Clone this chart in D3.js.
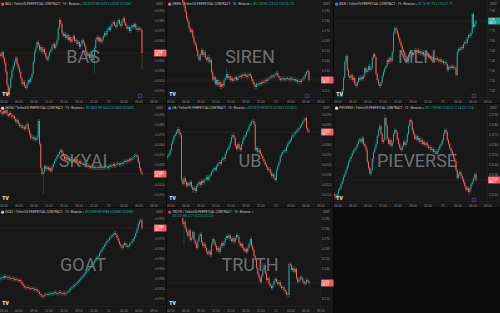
<!DOCTYPE html>
<html>
<head>
<meta charset="utf-8">
<script src="https://cdn.jsdelivr.net/npm/d3@7"></script>
<style>
  body { margin: 0; background: #0b0b0b; }
  svg { display: block; font-family: Roboto, "Noto Sans", sans-serif; }
</style>
</head>
<body>
<div id="chart"></div>
<script>
// Chart data
const symbols = ["BAS", "SIREN", "MLN", "SKYAI", "UB", "PIEVERSE", "GOAT", "TRUTH"];
const quote = " / TetherUS PERPETUAL CONTRACT · 15 · Binance";
const startTime = new Date(2025, 9, 14, 2, 30);
const barMinutes = 15;
const firstBar = [0, 12, 0, 0, 0, 0, 0, 12];
const firstOpen = [0.0346, 0.205, 7.00, 0.0494, 0.0546, 0.1110, 0.0929, 0.290];
const priceLo = [0.0303, 0.103, 7.03, 0.0403, 0.0503, 0.1103, 0.0902, 0.202];
const priceHi = [0.0400, 0.200, 8.00, 0.0500, 0.0600, 0.1200, 0.1000, 0.300];
const priceDecimals = [4, 3, 2, 4, 4, 4, 4, 3];
const xTickLabels = ["03:00", "06:00", "09:00", "12:00", "15:00", "18:00", "21:00", "15", "03:00", "06:00", "09:00"];
const countdown = "08:17";

const basClose = [
  0.0344,0.0348,0.0342,0.0337,0.0328,0.0315,0.0305,0.0312,0.0322,0.0330,
  0.0334,0.0338,0.0342,0.0336,0.0332,0.0328,0.0322,0.0316,0.0318,0.0314,
  0.0312,0.0316,0.0320,0.0318,0.0322,0.0326,0.0338,0.0348,0.0352,0.0358,
  0.0355,0.0350,0.0353,0.0348,0.0351,0.0347,0.0343,0.0340,0.0344,0.0348,
  0.0350,0.0354,0.0356,0.0352,0.0355,0.0360,0.0372,0.0380,0.0376,0.0367,
  0.0364,0.0366,0.0362,0.0365,0.0360,0.0363,0.0358,0.0361,0.0364,0.0359,
  0.0360,0.0356,0.0358,0.0353,0.0356,0.0360,0.0357,0.0354,0.0348,0.0344,
  0.0346,0.0342,0.0345,0.0340,0.0343,0.0352,0.0360,0.0363,0.0359,0.0362,
  0.0358,0.0360,0.0364,0.0367,0.0365,0.0370,0.0372,0.0370,0.0374,0.0376,
  0.0378,0.0375,0.0373,0.0377,0.0380,0.0376,0.0374,0.0379,0.0382,0.0377,
  0.0374,0.0371,0.0373,0.0369,0.0372,0.0375,0.0373,0.0376,0.0372,0.0370,
  0.0372,0.0371,0.0370,0.0347
];
const sirenClose = [
  0.198,0.194,0.188,0.182,0.178,0.172,0.168,0.170,0.163,0.158,
  0.155,0.150,0.144,0.140,0.146,0.150,0.145,0.148,0.142,0.140,
  0.143,0.138,0.140,0.128,0.120,0.123,0.116,0.120,0.115,0.118,
  0.113,0.116,0.114,0.120,0.122,0.126,0.122,0.124,0.120,0.122,
  0.119,0.121,0.123,0.120,0.122,0.124,0.123,0.125,0.124,0.126,
  0.124,0.123,0.125,0.126,0.124,0.121,0.118,0.115,0.113,0.116,
  0.115,0.117,0.116,0.118,0.117,0.119,0.120,0.119,0.121,0.122,
  0.123,0.124,0.123,0.125,0.126,0.127,0.124,0.122,0.120,0.121,
  0.122,0.120,0.121,0.122,0.121,0.120,0.122,0.121,0.120,0.121,
  0.119,0.120,0.118,0.119,0.118,0.120,0.121,0.123,0.126,0.128,
  0.129,0.120
];
const mlnClose = [
  7.01,7.00,7.02,7.03,7.01,7.04,7.10,7.22,7.38,7.44,
  7.30,7.24,7.22,7.25,7.20,7.22,7.16,7.14,7.18,7.22,
  7.20,7.23,7.21,7.24,7.32,7.28,7.30,7.34,7.30,7.32,
  7.42,7.46,7.43,7.26,7.20,7.16,7.14,7.18,7.24,7.28,
  7.32,7.34,7.40,7.38,7.42,7.39,7.48,7.67,7.72,7.70,
  7.66,7.62,7.58,7.54,7.50,7.48,7.44,7.40,7.38,7.43,
  7.46,7.48,7.45,7.47,7.50,7.48,7.50,7.47,7.49,7.46,
  7.48,7.45,7.46,7.44,7.45,7.43,7.44,7.42,7.43,7.41,
  7.40,7.42,7.40,7.39,7.41,7.38,7.39,7.37,7.38,7.36,
  7.30,7.33,7.32,7.34,7.32,7.33,7.32,7.25,7.48,7.51,
  7.50,7.53,7.52,7.56,7.58,7.57,7.62,7.65,7.64,7.67,
  7.86,7.73,7.76,7.79
];
const skyaiClose = [
  0.0492,0.0490,0.0493,0.0491,0.0494,0.0490,0.0488,0.0491,0.0489,0.0487,
  0.0488,0.0485,0.0482,0.0484,0.0480,0.0478,0.0479,0.0476,0.0477,0.0475,
  0.0478,0.0480,0.0474,0.0470,0.0466,0.0467,0.0465,0.0466,0.0464,0.0467,
  0.0483,0.0460,0.0436,0.0430,0.0432,0.0438,0.0435,0.0437,0.0434,0.0436,
  0.0433,0.0437,0.0440,0.0443,0.0445,0.0448,0.0450,0.0452,0.0454,0.0451,
  0.0448,0.0445,0.0447,0.0444,0.0446,0.0443,0.0445,0.0442,0.0444,0.0443,
  0.0445,0.0442,0.0441,0.0443,0.0440,0.0441,0.0439,0.0440,0.0438,0.0439,
  0.0437,0.0438,0.0436,0.0437,0.0436,0.0437,0.0436,0.0437,0.0436,0.0437,
  0.0436,0.0437,0.0436,0.0438,0.0437,0.0436,0.0438,0.0437,0.0439,0.0438,
  0.0440,0.0438,0.0439,0.0441,0.0440,0.0439,0.0441,0.0440,0.0442,0.0443,
  0.0442,0.0444,0.0443,0.0445,0.0444,0.0446,0.0447,0.0448,0.0449,0.0447,
  0.0442,0.0436,0.0432,0.0430
];
const ubClose = [
  0.0548,0.0550,0.0554,0.0560,0.0564,0.0568,0.0570,0.0572,0.0575,0.0571,
  0.0569,0.0524,0.0520,0.0526,0.0522,0.0518,0.0521,0.0519,0.0522,0.0517,
  0.0514,0.0516,0.0513,0.0518,0.0520,0.0522,0.0519,0.0523,0.0521,0.0524,
  0.0525,0.0527,0.0524,0.0528,0.0529,0.0532,0.0534,0.0536,0.0534,0.0538,
  0.0540,0.0542,0.0540,0.0544,0.0546,0.0545,0.0550,0.0553,0.0555,0.0558,
  0.0562,0.0567,0.0569,0.0566,0.0558,0.0555,0.0560,0.0556,0.0554,0.0560,
  0.0564,0.0567,0.0569,0.0572,0.0574,0.0578,0.0580,0.0582,0.0583,0.0580,
  0.0554,0.0556,0.0552,0.0554,0.0550,0.0548,0.0545,0.0542,0.0539,0.0537,
  0.0534,0.0535,0.0531,0.0528,0.0530,0.0526,0.0524,0.0534,0.0538,0.0542,
  0.0548,0.0550,0.0552,0.0554,0.0553,0.0557,0.0560,0.0562,0.0564,0.0567,
  0.0569,0.0570,0.0572,0.0573,0.0574,0.0576,0.0578,0.0580,0.0582,0.0584,
  0.0586,0.0576,0.0573,0.0572
];
const pieverseClose = [
  0.1108,0.1106,0.1110,0.1114,0.1116,0.1120,0.1123,0.1127,0.1130,0.1134,
  0.1138,0.1142,0.1145,0.1148,0.1151,0.1153,0.1155,0.1157,0.1160,0.1163,
  0.1165,0.1162,0.1166,0.1160,0.1158,0.1154,0.1142,0.1136,0.1130,0.1134,
  0.1145,0.1152,0.1156,0.1160,0.1168,0.1174,0.1178,0.1170,0.1162,0.1164,
  0.1186,0.1178,0.1165,0.1160,0.1164,0.1158,0.1162,0.1170,0.1174,0.1172,
  0.1165,0.1160,0.1156,0.1154,0.1158,0.1162,0.1159,0.1162,0.1170,0.1178,
  0.1184,0.1182,0.1174,0.1170,0.1165,0.1168,0.1164,0.1166,0.1162,0.1164,
  0.1160,0.1162,0.1159,0.1161,0.1158,0.1156,0.1157,0.1154,0.1155,0.1152,
  0.1153,0.1150,0.1152,0.1155,0.1158,0.1160,0.1164,0.1170,0.1174,0.1172,
  0.1164,0.1160,0.1156,0.1153,0.1150,0.1146,0.1143,0.1134,0.1126,0.1130,
  0.1132,0.1128,0.1125,0.1122,0.1118,0.1114,0.1116,0.1112,0.1115,0.1120,
  0.1122,0.1126,0.1130,0.1124
];
const goatClose = [
  0.0930,0.0931,0.0930,0.0932,0.0931,0.0930,0.0931,0.0930,0.0929,0.0930,
  0.0929,0.0928,0.0929,0.0928,0.0927,0.0928,0.0926,0.0924,0.0922,0.0921,
  0.0920,0.0921,0.0920,0.0920,0.0919,0.0920,0.0919,0.0918,0.0919,0.0917,
  0.0916,0.0914,0.0913,0.0911,0.0912,0.0913,0.0914,0.0913,0.0914,0.0914,
  0.0915,0.0914,0.0915,0.0916,0.0915,0.0914,0.0915,0.0916,0.0915,0.0914,
  0.0915,0.0914,0.0915,0.0916,0.0917,0.0918,0.0920,0.0921,0.0922,0.0923,
  0.0924,0.0925,0.0927,0.0928,0.0930,0.0931,0.0933,0.0934,0.0936,0.0937,
  0.0939,0.0940,0.0942,0.0944,0.0945,0.0947,0.0949,0.0951,0.0952,0.0955,
  0.0957,0.0959,0.0961,0.0963,0.0965,0.0967,0.0968,0.0970,0.0971,0.0973,
  0.0974,0.0975,0.0973,0.0970,0.0967,0.0964,0.0962,0.0960,0.0963,0.0965,
  0.0963,0.0961,0.0962,0.0964,0.0965,0.0967,0.0969,0.0971,0.0975,0.0979,
  0.0984,0.0987,0.0988,0.0980
];
const truthClose = [
  0.284,0.286,0.280,0.276,0.272,0.278,0.268,0.270,0.276,0.268,
  0.264,0.260,0.267,0.272,0.274,0.266,0.262,0.264,0.260,0.256,
  0.254,0.257,0.253,0.264,0.269,0.266,0.262,0.258,0.260,0.256,
  0.262,0.265,0.262,0.266,0.270,0.272,0.270,0.273,0.269,0.267,
  0.270,0.266,0.270,0.273,0.271,0.265,0.262,0.264,0.260,0.257,
  0.259,0.256,0.260,0.264,0.269,0.262,0.258,0.252,0.248,0.240,
  0.234,0.230,0.226,0.232,0.238,0.243,0.235,0.228,0.230,0.224,
  0.222,0.220,0.223,0.227,0.229,0.226,0.224,0.226,0.222,0.220,
  0.221,0.218,0.216,0.214,0.213,0.244,0.243,0.238,0.240,0.236,
  0.239,0.230,0.226,0.228,0.231,0.230,0.227,0.224,0.225,0.228,
  0.227,0.225
];

// long wicks: [bar index, high, low]
const basWicks = [[6, null, 0.0303], [47, 0.0383, null], [75, null, 0.0327], [113, null, 0.0330]];
const sirenWicks = [[47, 0.132, null]];
const mlnWicks = [[9, 7.46, null], [17, null, 7.12], [110, 7.88, null]];
const skyaiWicks = [[30, 0.0485, null], [34, null, 0.0410]];
const ubWicks = [[20, null, 0.0511], [110, 0.0587, null]];
const pieverseWicks = [[40, 0.1190, null], [107, null, 0.1109]];
const goatWicks = [];
const truthWicks = [[13, null, 0.262], [96, null, 0.211]];

const closes = [basClose, sirenClose, mlnClose, skyaiClose, ubClose, pieverseClose, goatClose, truthClose];
const wicks = [basWicks, sirenWicks, mlnWicks, skyaiWicks, ubWicks, pieverseWicks, goatWicks, truthWicks];

// Layout
const width = 500;
const height = 313;
const colX = [0, 167, 334];
const rowY = [0, 104, 208];
const panelW = 166;
const panelH = [103, 103, 105];
const plotW = 153;
const plotH = [97, 97, 98];
const upColor = "#26a69a";
const downColor = "#ef5f66";
const iconColors = ["#e8455c", "#e46b8a", "#4a7bd8", "#cccccc", "#3f6ff0", "#dddddd", "#bbbbbb", "#c8433f"];
const markedPanels = ["BAS", "SIREN", "MLN", "PIEVERSE"];

const barTime = i => new Date(+startTime + i * barMinutes * 60000);

const svg = d3.select("#chart")
  .append("svg")
  .attr("width", width)
  .attr("height", height)
  .style("background", "#0b0b0b");

const x = d3.scaleTime()
  .domain([barTime(-0.6), barTime(122.6)])
  .range([0, 154]);

const timeTicks = d3.timeHour.every(3).range(barTime(-0.6), barTime(122.6));

symbols.forEach((name, k) => {
  const col = k % 3;
  const row = Math.floor(k / 3);
  const ph = plotH[row];
  const dec = priceDecimals[k];
  const fmt = d3.format(`.${dec}f`);

  const g = svg.append("g")
    .attr("transform", `translate(${colX[col]},${rowY[row]})`);

  g.append("rect")
    .attr("width", panelW)
    .attr("height", panelH[row])
    .attr("fill", "#181818");

  // borders of price / time axes
  g.append("line")
    .attr("x1", plotW + 0.5).attr("x2", plotW + 0.5)
    .attr("y1", 0).attr("y2", panelH[row])
    .attr("stroke", "#242424").attr("stroke-width", 0.5);
  g.append("line")
    .attr("x1", 0).attr("x2", panelW)
    .attr("y1", ph + 0.5).attr("y2", ph + 0.5)
    .attr("stroke", "#242424").attr("stroke-width", 0.5);

  const y = d3.scaleLinear()
    .domain([priceLo[k], priceHi[k]])
    .range([ph, 0]);

  // build bars
  const close = closes[k];
  const bars = close.map((c, j) => {
    const i = firstBar[k] + j;
    const o = j === 0 ? firstOpen[k] : close[j - 1];
    return { i, o, c, hi: null, lo: null };
  });
  wicks[k].forEach(w => {
    const b = bars.find(d => d.i === w[0]);
    if (b) { b.hi = w[1]; b.lo = w[2]; }
  });
  const last = bars[bars.length - 1];
  const lastColor = last.c >= last.o ? upColor : downColor;
  const lastY = y(last.c);

  // watermark
  g.append("text")
    .attr("x", 83)
    .attr("y", 56)
    .attr("text-anchor", "middle")
    .attr("dominant-baseline", "central")
    .style("font-size", "18px")
    .style("fill", "rgba(170,170,170,0.62)")
    .text(name);

  g.append("clipPath")
    .attr("id", "clip" + k)
    .append("rect")
    .attr("width", plotW)
    .attr("height", ph);

  const plot = g.append("g").attr("clip-path", `url(#clip${k})`);

  // current price line
  plot.append("line")
    .attr("x1", 0).attr("x2", plotW)
    .attr("y1", lastY).attr("y2", lastY)
    .attr("stroke", lastColor)
    .attr("stroke-width", 0.5)
    .attr("stroke-dasharray", "1,1")
    .attr("opacity", 0.35);

  plot.selectAll(".wick")
    .data(bars)
    .join("line")
    .attr("class", "wick")
    .attr("x1", d => x(barTime(d.i)))
    .attr("x2", d => x(barTime(d.i)))
    .attr("y1", d => d.hi != null ? y(d.hi) : y(Math.max(d.o, d.c)) - 2)
    .attr("y2", d => d.lo != null ? y(d.lo) : y(Math.min(d.o, d.c)) + 2)
    .attr("stroke", d => d.c >= d.o ? upColor : downColor)
    .attr("stroke-width", 0.7)
    .attr("opacity", 0.45);

  plot.selectAll(".body")
    .data(bars)
    .join("rect")
    .attr("class", "body")
    .attr("x", d => x(barTime(d.i)) - 0.5)
    .attr("width", 1)
    .attr("y", d => y(Math.max(d.o, d.c)))
    .attr("height", d => Math.max(0.6, Math.abs(y(d.o) - y(d.c))))
    .attr("fill", d => d.c >= d.o ? upColor : downColor);

  // x axis
  const xAxis = g.append("g")
    .attr("transform", `translate(0,${ph})`)
    .call(d3.axisBottom(x)
      .tickValues(timeTicks)
      .tickFormat((d, i) => xTickLabels[i])
      .tickSize(0)
      .tickPadding(4));
  xAxis.select(".domain").remove();
  xAxis.selectAll("text")
    .style("font-size", "3.1px")
    .style("fill", "#8b8b8b");

  // price axis (ticks under the price label are hidden)
  const yAxis = g.append("g")
    .attr("transform", `translate(${plotW + 2},0)`)
    .call(d3.axisRight(y).ticks(8).tickFormat(fmt).tickSize(0).tickPadding(0));
  yAxis.select(".domain").remove();
  yAxis.selectAll(".tick")
    .filter(d => y(d) < 9 || y(d) > ph - 3 || Math.abs(y(d) - lastY) < 6)
    .remove();
  yAxis.selectAll("text")
    .style("font-size", "3.1px")
    .style("fill", "#8b8b8b");

  g.append("text")
    .attr("x", plotW + 3)
    .attr("y", 5)
    .style("font-size", "2.8px")
    .style("fill", "#9a9a9a")
    .text("USDT");

  // current price label
  const lab = g.append("g").attr("transform", `translate(${plotW + 1},${lastY - 3.5})`);
  lab.append("rect")
    .attr("width", 12.5)
    .attr("height", 7)
    .attr("rx", 0.6)
    .attr("fill", lastColor);
  lab.append("text")
    .attr("x", 1.2).attr("y", 3)
    .style("font-size", "2.7px")
    .style("fill", "#ffffff")
    .text(fmt(last.c));
  lab.append("text")
    .attr("x", 1.2).attr("y", 6.2)
    .style("font-size", "2.7px")
    .style("fill", "#ffffff")
    .text(countdown);

  // legend
  const hiV = Math.max(last.o, last.c, last.hi || 0);
  const loV = Math.min(last.o, last.c, last.lo || Infinity);
  const values = `O${fmt(last.o)} H${fmt(hiV)} L${fmt(loV)} C${fmt(last.c)}`;

  g.append("circle")
    .attr("cx", 2.6).attr("cy", 4.2).attr("r", 1.6)
    .attr("fill", iconColors[k]);

  const legend = g.append("text")
    .attr("x", 5.2)
    .attr("y", 5.3)
    .style("font-size", "3.1px")
    .style("fill", "#c8c8c8");
  legend.append("tspan").text(name + quote + " ");
  legend.append("tspan").style("fill", upColor).text("● ");
  if (name === "TRUTH") {
    g.append("text")
      .attr("x", 5.2).attr("y", 9.3)
      .style("font-size", "3.1px")
      .style("fill", upColor)
      .text(values);
  } else {
    legend.append("tspan").style("fill", upColor).text(values);
  }

  // TradingView logo
  g.append("text")
    .attr("x", 2.2)
    .attr("y", ph - 0.8)
    .style("font-size", "5px")
    .style("font-weight", "900")
    .style("fill", "#e8e8e8")
    .text("TV");

  if (markedPanels.includes(name)) {
    g.append("circle")
      .attr("cx", 140).attr("cy", ph - 1.2).attr("r", 2)
      .attr("fill", "#2a1733")
      .attr("stroke", "#8e44ad")
      .attr("stroke-width", 0.6);
  }
});
</script>
</body>
</html>
